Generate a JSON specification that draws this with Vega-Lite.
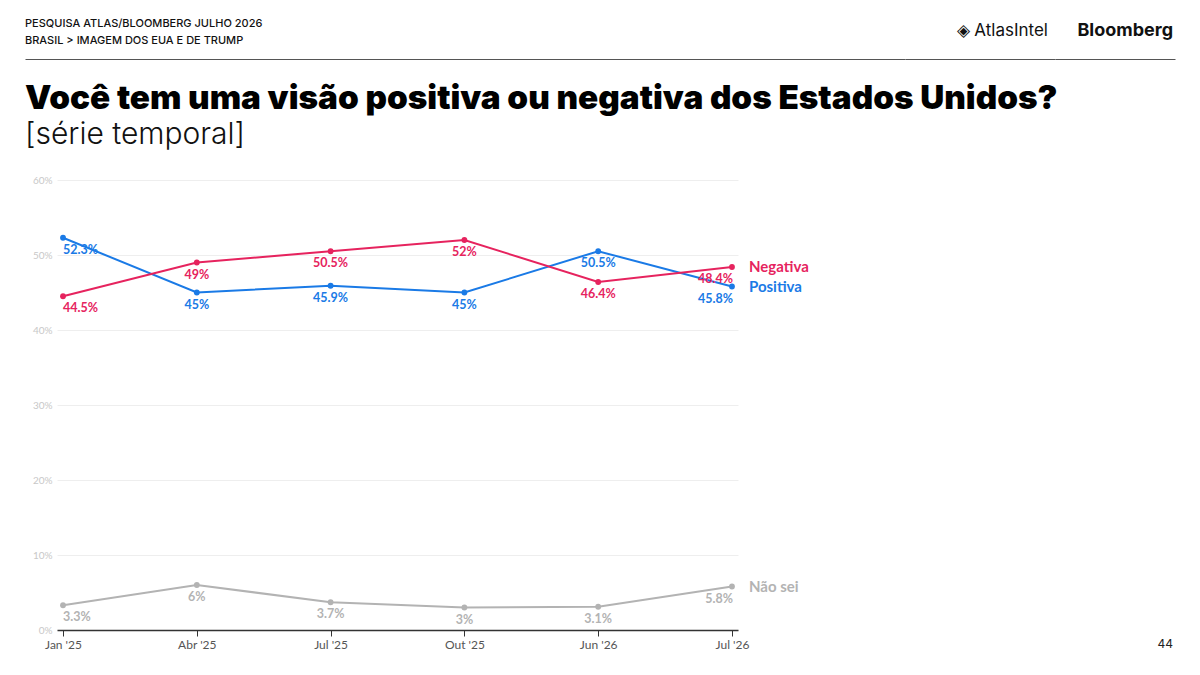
{
  "$schema": "https://vega.github.io/schema/vega-lite/v6.json",
  "background": "white",
  "padding": {"left": 25, "top": 18, "right": 25, "bottom": 5},
  "config": {"font": "Lato", "view": {"stroke": null}},
  "datasets": {
    "poll": [
      {"periodo": "Jan '25", "serie": "Positiva", "valor": 0.523},
      {"periodo": "Abr '25", "serie": "Positiva", "valor": 0.45},
      {"periodo": "Jul '25", "serie": "Positiva", "valor": 0.459},
      {"periodo": "Out '25", "serie": "Positiva", "valor": 0.45},
      {"periodo": "Jun '26", "serie": "Positiva", "valor": 0.505},
      {"periodo": "Jul '26", "serie": "Positiva", "valor": 0.458},
      {"periodo": "Jan '25", "serie": "Negativa", "valor": 0.445},
      {"periodo": "Abr '25", "serie": "Negativa", "valor": 0.49},
      {"periodo": "Jul '25", "serie": "Negativa", "valor": 0.505},
      {"periodo": "Out '25", "serie": "Negativa", "valor": 0.52},
      {"periodo": "Jun '26", "serie": "Negativa", "valor": 0.464},
      {"periodo": "Jul '26", "serie": "Negativa", "valor": 0.484},
      {"periodo": "Jan '25", "serie": "Não sei", "valor": 0.033},
      {"periodo": "Abr '25", "serie": "Não sei", "valor": 0.06},
      {"periodo": "Jul '25", "serie": "Não sei", "valor": 0.037},
      {"periodo": "Out '25", "serie": "Não sei", "valor": 0.03},
      {"periodo": "Jun '26", "serie": "Não sei", "valor": 0.031},
      {"periodo": "Jul '26", "serie": "Não sei", "valor": 0.058}
    ]
  },
  "spacing": 22,
  "vconcat": [
    {
      "hconcat": [
        {
          "width": 880, "height": 1,
          "data": {"values": []},
          "mark": {"type": "text"},
          "encoding": {"x": {"field": "k", "type": "quantitative", "scale": {"domain": [0, 1]}, "axis": {"title": null, "labels": false, "ticks": false, "grid": false, "domainColor": "#555555", "domainWidth": 1}}},
          "title": {"text": ["PESQUISA ATLAS/BLOOMBERG JULHO 2026", "BRASIL > IMAGEM DOS EUA E DE TRUMP"], "anchor": "start", "font": "Inter", "fontSize": 11, "fontWeight": 500, "color": "#111111", "lineHeight": 17, "offset": 12}
        },
        {
          "width": 150, "height": 1,
          "data": {"values": []},
          "mark": {"type": "text"},
          "encoding": {"x": {"field": "k", "type": "quantitative", "scale": {"domain": [0, 1]}, "axis": {"title": null, "labels": false, "ticks": false, "grid": false, "domainColor": "#555555", "domainWidth": 1}}},
          "title": {"text": "◈ AtlasIntel", "anchor": "end", "dx": -7, "font": "Inter", "fontSize": 17, "fontWeight": 400, "color": "#111111", "offset": 18}
        },
        {
          "width": 120, "height": 1,
          "data": {"values": []},
          "mark": {"type": "text"},
          "encoding": {"x": {"field": "k", "type": "quantitative", "scale": {"domain": [0, 1]}, "axis": {"title": null, "labels": false, "ticks": false, "grid": false, "domainColor": "#555555", "domainWidth": 1}}},
          "title": {"text": "Bloomberg", "anchor": "end", "dx": -2, "font": "Inter", "fontSize": 18, "fontWeight": 700, "color": "#111111", "offset": 18}
        }
      ],
      "spacing": 0,
      "bounds": "flush"
    },
    {
      "hconcat": [
        {
          "width": 32, "height": 450,
          "data": {"values": []},
          "mark": {"type": "text"},
          "encoding": {}
        },
        {
          "width": 681,
          "height": 450,
          "title": {
            "text": "Você tem uma visão positiva ou negativa dos Estados Unidos?",
            "subtitle": "[série temporal]",
            "anchor": "start", "frame": "group", "dx": -32,
            "font": "Inter", "fontSize": 33.3, "fontWeight": 900, "color": "#000000",
            "subtitleFont": "Inter", "subtitleFontSize": 30, "subtitleFontWeight": 300, "subtitleColor": "#111111",
            "subtitlePadding": 4, "offset": 24
          },
          "data": {"name": "poll"},
          "encoding": {
            "x": {
              "field": "periodo", "type": "ordinal",
              "sort": ["Jan '25", "Abr '25", "Jul '25", "Out '25", "Jun '26", "Jul '26"],
              "scale": {"type": "point", "padding": 0.045},
              "axis": {"title": null, "labelAngle": 0, "domainColor": "#333333", "domainWidth": 1.5, "tickColor": "#333333", "tickSize": 6, "labelColor": "#555555", "labelFontSize": 12, "labelPadding": 3, "grid": false}
            },
            "y": {
              "field": "valor", "type": "quantitative",
              "scale": {"domain": [0, 0.6]},
              "axis": {"title": null, "format": ".0%", "values": [0, 0.1, 0.2, 0.3, 0.4, 0.5, 0.6], "domain": false, "ticks": false, "labelColor": "#c8c8c8", "labelFontSize": 10, "labelPadding": 5, "gridColor": "#eeeeee"}
            },
            "color": {
              "field": "serie", "type": "nominal",
              "scale": {"domain": ["Positiva", "Negativa", "Não sei"], "range": ["#1a7ae6", "#e6235e", "#b3b3b3"]},
              "legend": null
            }
          },
          "layer": [
            {"mark": {"type": "line", "strokeWidth": 2}},
            {"mark": {"type": "circle", "size": 34, "opacity": 1}},
            {
              "transform": [{"filter": "datum.periodo === \"Jan '25\""}],
              "mark": {"type": "text", "align": "left", "baseline": "middle", "dy": 12, "dx": 0, "fontSize": 12.5, "fontWeight": "bold"},
              "encoding": {"text": {"field": "valor", "type": "quantitative", "format": ".1~%"}}
            },
            {
              "transform": [{"filter": "datum.periodo !== \"Jan '25\" && datum.periodo !== \"Jul '26\""}],
              "mark": {"type": "text", "align": "center", "baseline": "middle", "dy": 12, "fontSize": 12.5, "fontWeight": "bold"},
              "encoding": {"text": {"field": "valor", "type": "quantitative", "format": ".1~%"}}
            },
            {
              "transform": [{"filter": "datum.periodo === \"Jul '26\""}],
              "mark": {"type": "text", "align": "right", "baseline": "middle", "dy": 12, "dx": 1, "fontSize": 12.5, "fontWeight": "bold"},
              "encoding": {"text": {"field": "valor", "type": "quantitative", "format": ".1~%"}}
            },
            {
              "transform": [{"filter": "datum.periodo === \"Jul '26\""}],
              "mark": {"type": "text", "align": "left", "baseline": "middle", "dx": 17, "fontSize": 15, "fontWeight": "bold"},
              "encoding": {"text": {"field": "serie", "type": "nominal"}}
            }
          ]
        },
        {
          "width": 437, "height": 450,
          "data": {"values": []},
          "mark": {"type": "text"},
          "encoding": {},
          "title": {"text": "44", "orient": "bottom", "anchor": "end", "dx": -2, "offset": 9, "font": "Inter", "fontSize": 12, "fontWeight": 400, "color": "#222222"}
        }
      ],
      "spacing": 0,
      "bounds": "flush"
    }
  ]
}
